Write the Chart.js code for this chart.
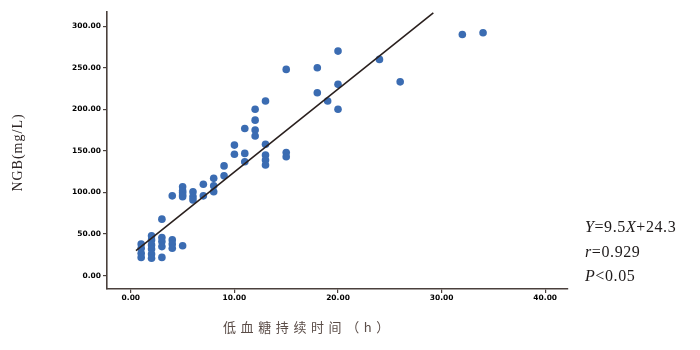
<!DOCTYPE html>
<html><head><meta charset="utf-8">
<script src="https://cdn.jsdelivr.net/npm/chart.js@4/dist/chart.umd.min.js"></script>
<style>html,body{margin:0;padding:0;background:#fff}#wrap{width:700px;height:350px}</style>
</head><body><div id="wrap"><canvas id="c" width="700" height="350"></canvas></div>
<script>
// Hypoglycaemia duration (h) and NGB (mg/L) per patient
const durationHours = [1,1,1,1, 2,2,2,2,2,2, 3,3,3,3,3, 4,4,4,4, 5,5,5,5,5,5, 6,6,6, 7,7, 8,8,8, 9,9, 10,10, 11,11,11, 12,12,12,12, 13,13,13,13,13, 15,15,15, 18,18, 19, 20,20,20, 24, 26, 32, 34];
const ngbValues     = [38,33,27,22, 48,43,37,32,26,21, 68,46,41,35,22, 96,43,38,33, 107,102,100,97,95,36, 101,95,91, 110,96, 117,108,101, 132,120, 157,146, 177,147,137, 200,187,175,168, 210,158,145,139,133, 248,148,143, 250,220, 210, 270,230,200, 260, 233, 290, 292];
// regression line as drawn in the figure
const fitLineX = [0.5, 29.2];
const fitLineY = [30, 316];
const xTickValues = [0, 10, 20, 30, 40];
const yTickValues = [0, 50, 100, 150, 200, 250, 300];
const xAxisTitle = '低血糖持续时间（h）';
const yAxisTitle = 'NGB(mg/L)';
const statLines = [
  [['Y', true], ['=9.5', false], ['X', true], ['+24.3', false]],
  [['r', true], ['=0.929', false]],
  [['P', true], ['<0.05', false]]
];

const axisColor = '#4a403c';
const tickFont = {family: 'DejaVu Sans', size: 7.5, weight: 'bold'};

const textPlugin = {
  id: 'texts',
  afterDraw(chart) {
    const ctx = chart.ctx;
    const a = chart.chartArea;
    ctx.save();
    // y title
    ctx.fillStyle = '#2e2626';
    ctx.font = '14px "Liberation Serif"';
    ctx.translate(a.left - 89, (a.top + a.bottom) / 2 + 2);
    ctx.rotate(-Math.PI / 2);
    ctx.textAlign = 'center';
    ctx.textBaseline = 'middle';
    ctx.letterSpacing = '1px';
    ctx.fillText(yAxisTitle, 0, 0);
    ctx.restore();

    // x title
    ctx.save();
    ctx.fillStyle = '#5b4d48';
    ctx.font = '13px "Noto Sans CJK SC"';
    ctx.letterSpacing = '4.6px';
    ctx.textAlign = 'left';
    ctx.textBaseline = 'middle';
    ctx.fillText(xAxisTitle, a.left + 116, a.bottom + 38);
    ctx.restore();

    // stats
    ctx.save();
    ctx.fillStyle = '#1e1a1a';
    ctx.textBaseline = 'middle';
    ctx.textAlign = 'left';
    ctx.letterSpacing = '0.6px';
    statLines.forEach((segs, i) => {
      let x = a.right + 17;
      const y = a.top + 216 + i * 24.5;
      segs.forEach(([t, it]) => {
        ctx.font = (it ? 'italic ' : '') + '16px "Liberation Serif"';
        ctx.fillText(t, x, y);
        x += ctx.measureText(t).width;
      });
    });
    ctx.restore();
  }
};

new Chart(document.getElementById('c'), {
  type: 'scatter',
  data: {
    datasets: [
      {
        type: 'line',
        data: fitLineX.map((x, i) => ({x, y: fitLineY[i]})),
        borderColor: '#2a201e',
        borderWidth: 1.6,
        pointRadius: 0,
        fill: false,
        order: 0
      },
      {
        data: durationHours.map((x, i) => ({x, y: ngbValues[i]})),
        backgroundColor: '#3b6cb2',
        borderColor: '#3b6cb2',
        borderWidth: 0,
        pointRadius: 3.8,
        order: 1
      }
    ]
  },
  options: {
    responsive: false,
    devicePixelRatio: 1,
    animation: false,
    layout: {padding: {left: 0, right: 132, top: 12, bottom: 0}},
    plugins: {legend: {display: false}, tooltip: {enabled: false}},
    scales: {
      x: {
        type: 'linear', min: -2.3, max: 42.2,
        afterBuildTicks: s => { s.ticks = xTickValues.map(v => ({value: v})); },
        afterFit: s => { s.height = 61; },
        ticks: {callback: v => Number(v).toFixed(2), font: tickFont, color: '#000', padding: 1, maxRotation: 0},
        grid: {drawOnChartArea: false, drawTicks: true, tickLength: 4, color: axisColor, lineWidth: 1.2},
        border: {display: true, color: axisColor, width: 1.6}
      },
      y: {
        type: 'linear', min: -16, max: 317,
        afterBuildTicks: s => { s.ticks = yTickValues.map(v => ({value: v})); },
        afterFit: s => { s.width = 107; },
        ticks: {callback: v => Number(v).toFixed(2), font: tickFont, color: '#000', padding: 2},
        grid: {drawOnChartArea: false, drawTicks: true, tickLength: 4, color: axisColor, lineWidth: 1.2},
        border: {display: true, color: axisColor, width: 1.6}
      }
    }
  },
  plugins: [textPlugin]
});
</script>
</body></html>
